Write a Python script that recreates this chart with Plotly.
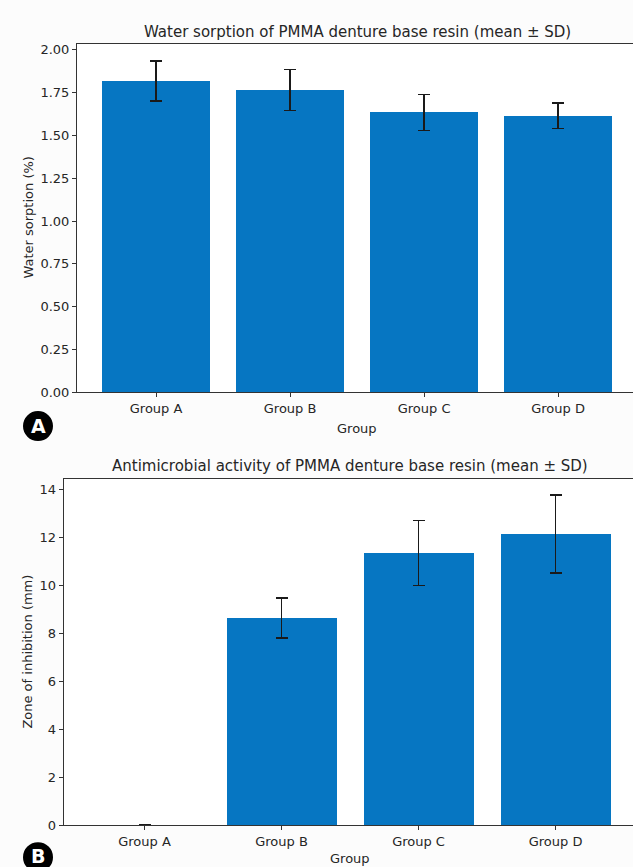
import plotly.graph_objects as go

groups = ["Group A", "Group B", "Group C", "Group D"]
water_mean = [1.82, 1.765, 1.635, 1.615]
water_sd = [0.117, 0.12, 0.105, 0.075]
zone_mean = [0.0, 8.65, 11.35, 12.15]
zone_sd = [0.0, 0.83, 1.36, 1.62]
water_ticks = [0, 0.25, 0.5, 0.75, 1.0, 1.25, 1.5, 1.75, 2.0]
zone_ticks = [0, 2, 4, 6, 8, 10, 12, 14]

W, H = 633, 867
BAR = "#0676c2"
FONT = "DejaVu Sans"
TXT = "#262626"
K = 1.0095  # vertical correction

def py(px):
    return max(0.0, 1 - px * K / H)

fig = go.Figure()
xpos = list(range(len(groups)))
fig.add_trace(go.Bar(x=xpos, y=water_mean, width=0.8, marker=dict(color=BAR, line=dict(width=0)),
                     error_y=dict(type="data", array=water_sd, color="#1a1a1a", thickness=1.6, width=6),
                     xaxis="x", yaxis="y", showlegend=False))
fig.add_trace(go.Bar(x=xpos, y=zone_mean, width=0.8, marker=dict(color=BAR, line=dict(width=0)),
                     error_y=dict(type="data", array=zone_sd, color="#1a1a1a", thickness=1.6, width=6),
                     xaxis="x2", yaxis="y2", showlegend=False))

axis_common = dict(showgrid=False, zeroline=False, showline=True, linecolor="#333", linewidth=1,
                   ticks="outside", ticklen=4, tickcolor="#333", tickwidth=1,
                   tickfont=dict(family=FONT, size=13, color=TXT))

x1_left = 77.0
x2_left = 63.7
fig.update_layout(
    width=W, height=H, margin=dict(l=0, r=0, t=0, b=0),
    paper_bgcolor="#fcfcfc", plot_bgcolor="#ffffff",
    bargap=0,
    xaxis=dict(domain=[x1_left / W, 1], anchor="y", range=[-0.59, -0.59 + (W - x1_left) / 134.0],
               tickmode="array", tickvals=xpos, ticktext=groups, mirror=True, **axis_common),
    yaxis=dict(domain=[py(391), py(42.2)], anchor="x", range=[0, 2.034],
               tickmode="array", tickvals=water_ticks, ticktext=[f"{v:.2f}" for v in water_ticks],
               **axis_common),
    xaxis2=dict(domain=[x2_left / W, 1], anchor="y2", range=[-0.59, -0.59 + (W - x2_left) / 137.0],
                tickmode="array", tickvals=xpos, ticktext=groups, mirror=True, **axis_common),
    yaxis2=dict(domain=[py(825), py(478)], anchor="x2", range=[0, 14.44],
                tickmode="array", tickvals=zone_ticks, ticktext=[str(v) for v in zone_ticks],
                **axis_common),
)

ann = []
def txt(text, x, y, size=13, angle=0, color=TXT, bold=False):
    ann.append(dict(text=f"<b>{text}</b>" if bold else text, x=x / W, y=py(y), xref="paper", yref="paper",
                    showarrow=False, textangle=angle, xanchor="center", yanchor="middle",
                    font=dict(family=FONT, size=size, color=color)))

txt("Water sorption of PMMA denture base resin (mean ± SD)", 357, 30, size=15)
txt("Group", 357, 427)
txt("Water sorption (%)", 29, 216, angle=-90)
txt("Antimicrobial activity of PMMA denture base resin (mean ± SD)", 350, 465, size=15)
txt("Group", 350, 858)
txt("Zone of inhibition (mm)", 28, 651, angle=-90)
txt("A", 38, 425, size=19, color="white", bold=True)
txt("B", 38, 856, size=19, color="white", bold=True)

shapes = []
for cy in (425, 857):
    shapes.append(dict(type="circle", xref="paper", yref="paper",
                       x0=(38 - 15) / W, x1=(38 + 15) / W, y0=1 - (cy + 15) * K / H, y1=py(cy - 15),
                       fillcolor="black", line=dict(width=0), layer="below"))
fig.update_layout(annotations=ann, shapes=shapes)

fig.write_html("out.html", config={"displayModeBar": False},
               post_script="document.body.style.margin='0';document.body.style.overflow='hidden';")
